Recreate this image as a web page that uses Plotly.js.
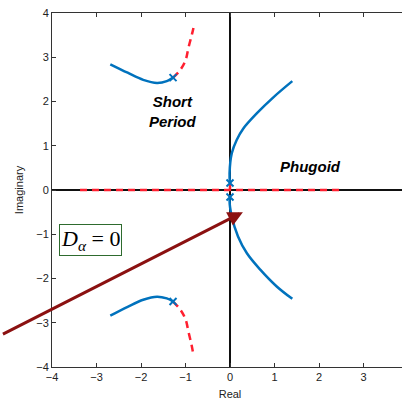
<!DOCTYPE html>
<html>
<head>
<meta charset="utf-8">
<script src="https://cdn.plot.ly/plotly-3.0.1.min.js"></script>
<style>
html, body { margin: 0; padding: 0; overflow: hidden; background: #fff; }
#chart { width: 410px; height: 400px; }
</style>
</head>
<body>
<div id="chart"></div>
<script>
// Short period branch (upper), solid part
const spUpX = [-2.69, -2.30, -1.95, -1.64, -1.42, -1.28];
const spUpY = [2.84, 2.65, 2.49, 2.42, 2.46, 2.54];
// Short period branch (upper), dashed part
const spUpDashX = [-1.28, -1.12, -1.0, -0.93, -0.85, -0.80];
const spUpDashY = [2.54, 2.71, 2.93, 3.23, 3.54, 3.76];
// Short period branch (lower), solid part
const spLoX = [-2.69, -2.30, -1.95, -1.64, -1.42, -1.28];
const spLoY = [-2.84, -2.64, -2.48, -2.41, -2.45, -2.52];
// Short period branch (lower), dashed part
const spLoDashX = [-1.28, -1.12, -1.0, -0.93, -0.86, -0.82];
const spLoDashY = [-2.52, -2.70, -2.92, -3.22, -3.52, -3.74];
// Phugoid branches
const phUpX = [0.0, -0.01, 0.04, 0.15, 0.30, 0.60, 0.98, 1.40];
const phUpY = [0.16, 0.38, 0.83, 1.13, 1.39, 1.73, 2.10, 2.46];
const phLoX = [0.0, -0.01, 0.04, 0.18, 0.38, 0.68, 1.05, 1.40];
const phLoY = [-0.16, -0.23, -0.60, -1.05, -1.43, -1.80, -2.18, -2.46];
// Real-axis dashed locus
const realDashX = [-3.37, 2.52];
const realDashY = [0, 0];
const originDashX = [0, 0];
const originDashY = [0.16, -0.16];
// Pole markers
const poleX = [-1.28, -1.28, 0, 0];
const poleY = [2.54, -2.52, 0.16, -0.16];
// Arrow (tail -> head)
const arrowTail = [-5.17, -3.29];
const arrowHead = [0.29, -0.50];
// Ticks
const tickVals = [-4, -3, -2, -1, 0, 1, 2, 3, 4];

const blue = '#0072BD';
const red = '#FF1F2F';

const solid = (x, y) => ({x, y, type: 'scatter', mode: 'lines', line: {color: blue, width: 2.5, shape: 'spline', smoothing: 1}, hoverinfo: 'skip', showlegend: false});
const dashed = (x, y) => ({x, y, type: 'scatter', mode: 'lines', line: {color: red, width: 2.5, dash: '7px,5px', shape: 'spline'}, hoverinfo: 'skip', showlegend: false});

const traces = [
  dashed(realDashX, realDashY),
  dashed(originDashX, originDashY),
  solid(spUpX, spUpY),
  dashed(spUpDashX, spUpDashY),
  solid(spLoX, spLoY),
  dashed(spLoDashX, spLoDashY),
  solid(phUpX, phUpY),
  solid(phLoX, phLoY),
  {x: poleX, y: poleY, type: 'scatter', mode: 'markers',
   marker: {symbol: 'x-thin', size: 7, color: blue, line: {color: blue, width: 2}},
   hoverinfo: 'skip', showlegend: false}
];

const axisBase = {
  range: [-4, 4],
  tickvals: tickVals,
  ticks: 'inside',
  ticklen: 4,
  tickcolor: '#333',
  showline: true,
  linecolor: '#333',
  linewidth: 1,
  mirror: 'ticks',
  showgrid: false,
  zeroline: true,
  zerolinecolor: '#111',
  zerolinewidth: 1.3,
  tickfont: {size: 11, color: '#222'}
};

const layout = {
  width: 410,
  height: 400,
  margin: {l: 52, r: 2, t: 13, b: 33},
  paper_bgcolor: '#fff',
  plot_bgcolor: '#fff',
  font: {family: 'Liberation Sans, Arial, sans-serif', color: '#222'},
  xaxis: Object.assign({}, axisBase, {title: {text: 'Real', font: {size: 11}, standoff: 8}}),
  yaxis: Object.assign({}, axisBase, {title: {text: 'Imaginary', font: {size: 11}, standoff: 10}}),
  annotations: [
    {x: arrowHead[0], y: arrowHead[1], ax: arrowTail[0], ay: arrowTail[1],
     xref: 'x', yref: 'y', axref: 'x', ayref: 'y',
     showarrow: true, arrowhead: 2, arrowsize: 1, arrowwidth: 3, arrowcolor: '#8B1111', text: ' '},
    {x: -3.13, y: -1.14, xref: 'x', yref: 'y', showarrow: false,
     text: '<i>D</i><sub><i>α</i></sub> = 0',
     font: {family: 'Liberation Serif, Times New Roman, serif', size: 22, color: '#000'},
     bordercolor: '#2E6B2E', borderwidth: 1, borderpad: 1, bgcolor: '#fff'},
    {x: -1.29, y: 1.78, xref: 'x', yref: 'y', showarrow: false,
     text: '<b><i>Short<br>Period</i></b>',
     font: {size: 15, color: '#000'}},
    {x: 1.8, y: 0.54, xref: 'x', yref: 'y', showarrow: false,
     text: '<b><i>Phugoid</i></b>',
     font: {size: 15, color: '#000'}}
  ]
};

Plotly.newPlot('chart', traces, layout, {staticPlot: true, displayModeBar: false});
</script>
</body>
</html>
